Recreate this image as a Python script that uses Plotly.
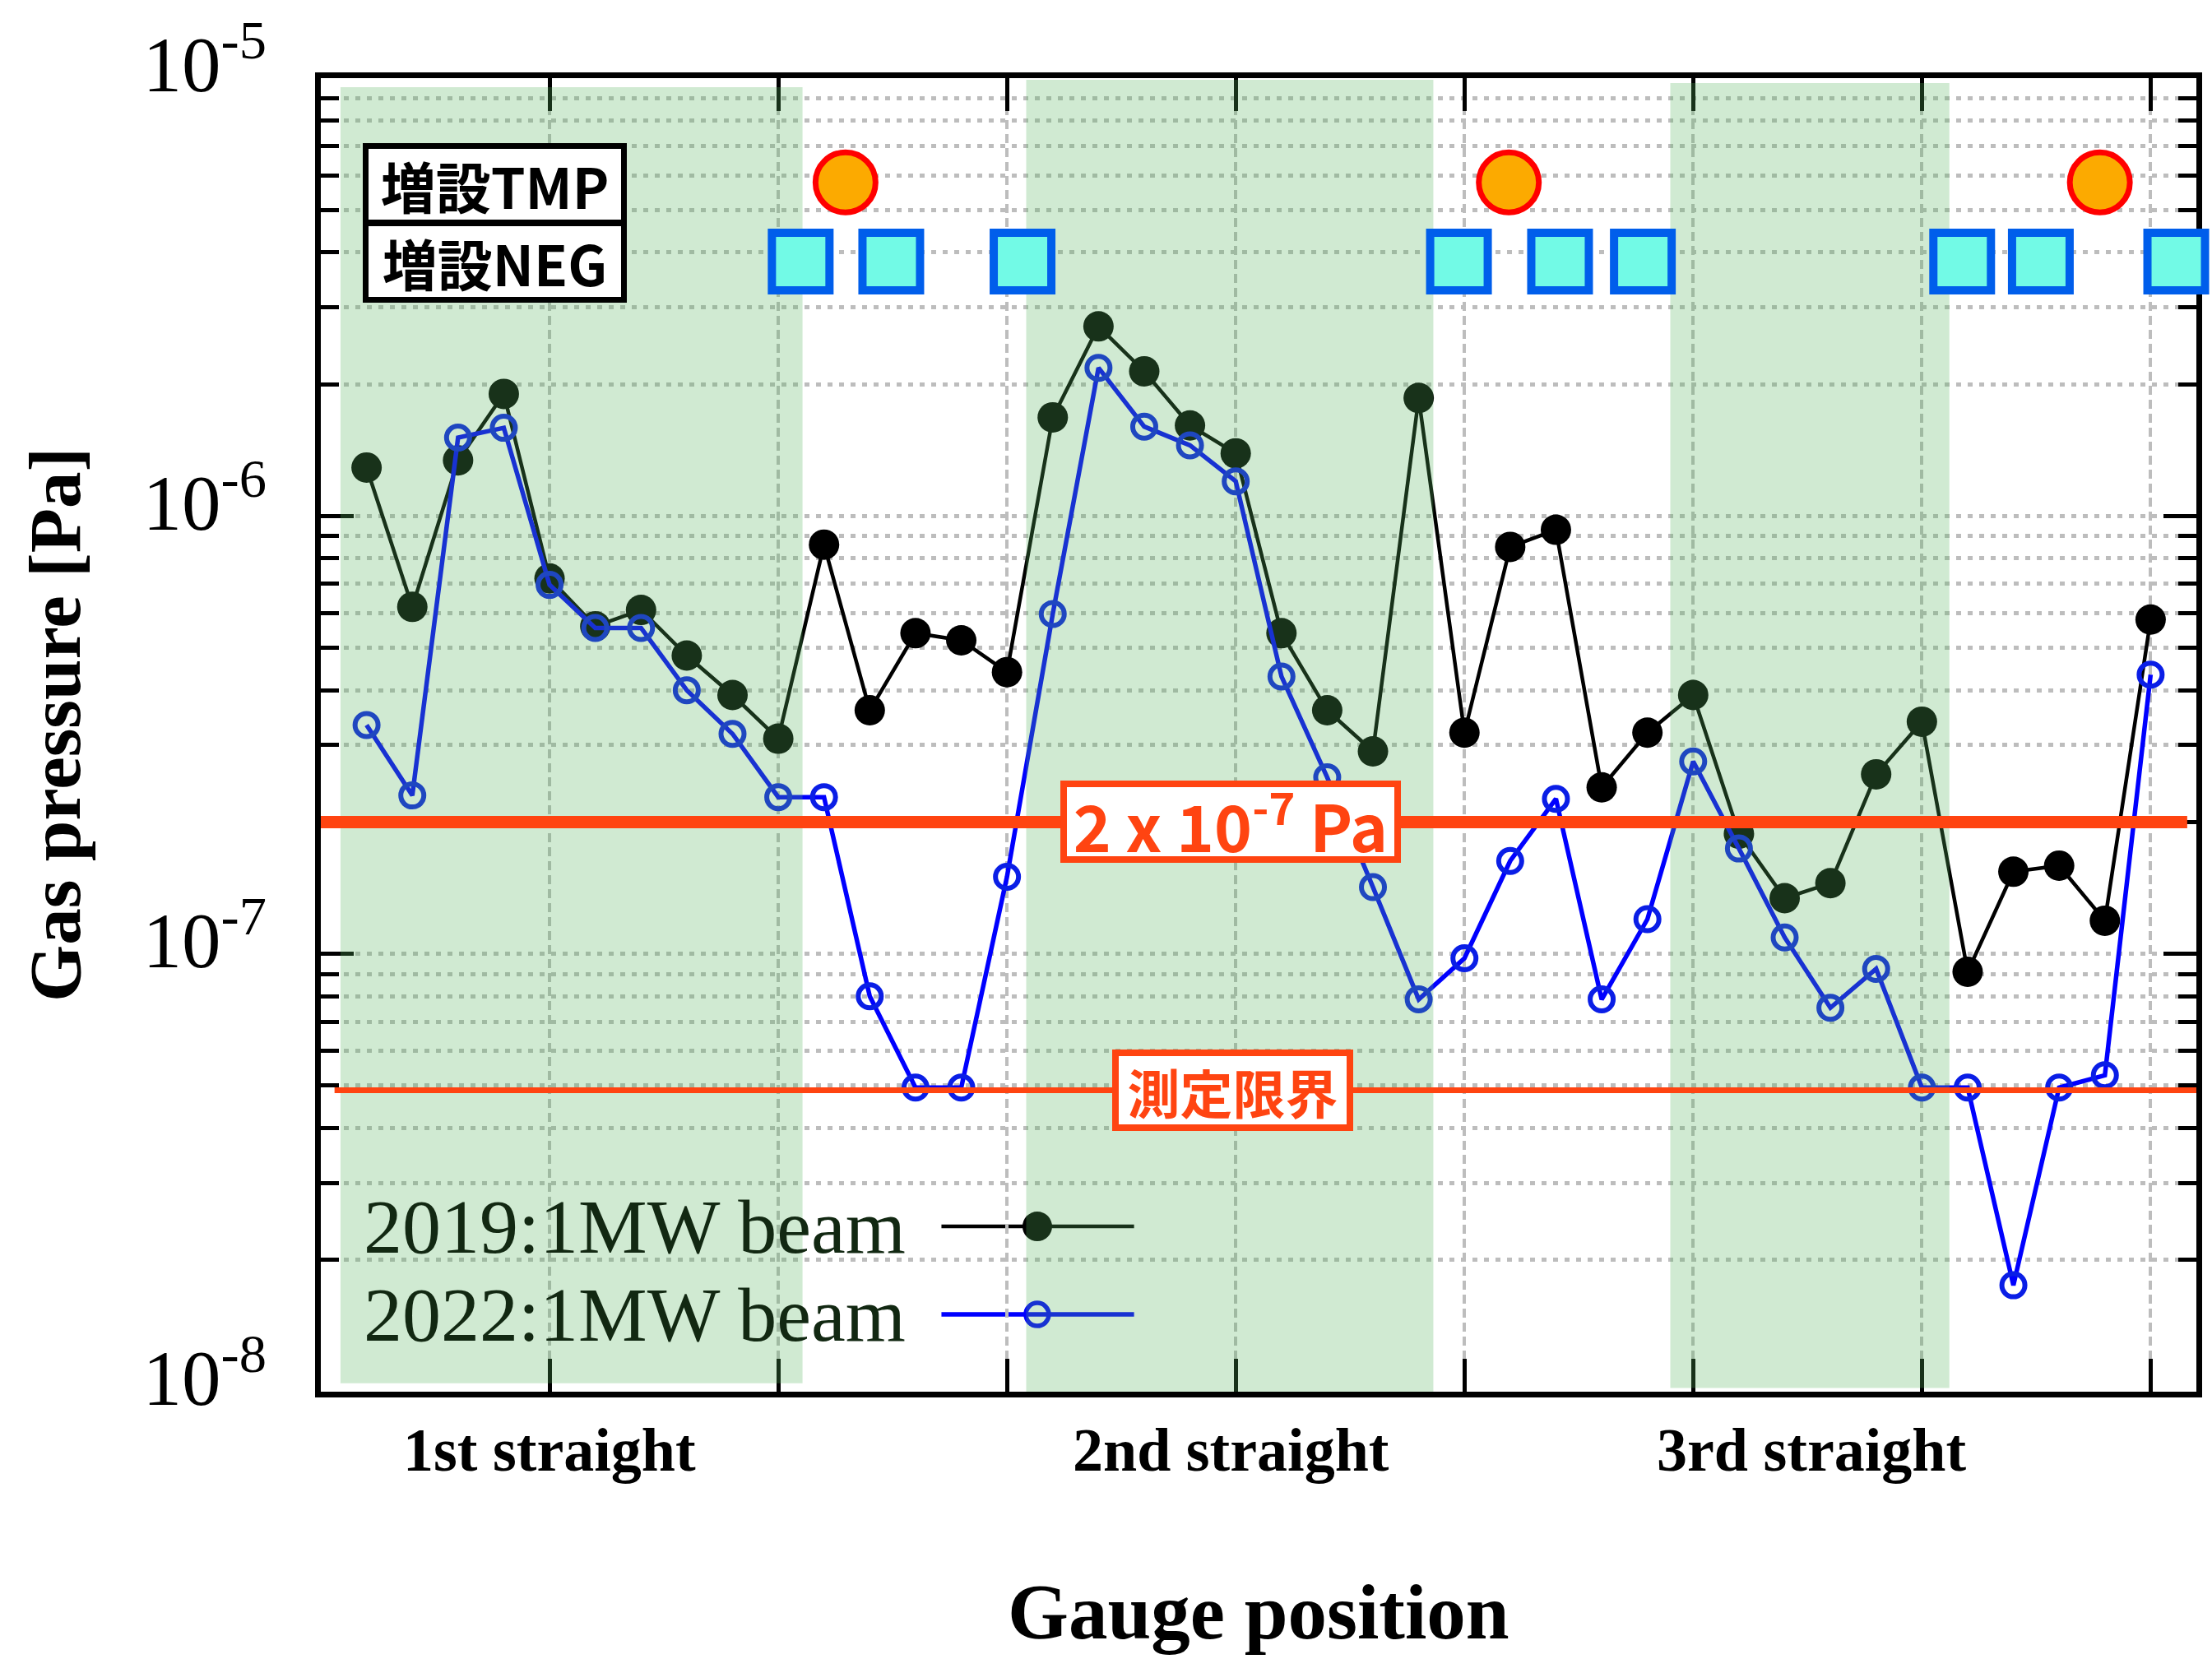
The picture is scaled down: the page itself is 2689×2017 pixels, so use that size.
import numpy as np
import plotly.graph_objects as go

# ---- data -----------------------------------------------------------------
GAUGE_INDEX = list(range(40))

P_2019 = [1.29e-6, 6.2e-7, 1.34e-6, 1.90e-6, 7.2e-7, 5.6e-7, 6.1e-7, 4.8e-7, 3.9e-7, 3.1e-7,
          8.6e-7, 3.6e-7, 5.4e-7, 5.2e-7, 4.4e-7, 1.68e-6, 2.71e-6, 2.14e-6, 1.61e-6, 1.39e-6,
          5.4e-7, 3.6e-7, 2.9e-7, 1.86e-6, 3.2e-7, 8.5e-7, 9.3e-7, 2.4e-7, 3.2e-7, 3.9e-7,
          1.88e-7, 1.34e-7, 1.45e-7, 2.57e-7, 3.39e-7, 9.1e-8, 1.54e-7, 1.59e-7, 1.19e-7, 5.8e-7]

P_2022 = [3.33e-7, 2.30e-7, 1.51e-6, 1.59e-6, 6.96e-7, 5.55e-7, 5.55e-7, 4.0e-7, 3.18e-7, 2.28e-7,
          2.28e-7, 8.0e-8, 4.95e-8, 4.95e-8, 1.50e-7, 5.97e-7, 2.18e-6, 1.60e-6, 1.45e-6, 1.20e-6,
          4.3e-7, 2.53e-7, 1.42e-7, 7.87e-8, 9.77e-8, 1.63e-7, 2.26e-7, 7.87e-8, 1.20e-7, 2.75e-7,
          1.74e-7, 1.09e-7, 7.53e-8, 9.24e-8, 4.95e-8, 4.95e-8, 1.75e-8, 4.95e-8, 5.28e-8, 4.34e-7]

SERIES_NAMES = ["2019:1MW beam", "2022:1MW beam"]

# straight sections (shaded), in gauge-index units
STRAIGHT_X0 = [-0.57, 14.42, 28.5]
STRAIGHT_X1 = [9.53, 23.32, 34.6]
STRAIGHT_TOP = [9.54e-6, 9.91e-6, 9.74e-6]
STRAIGHT_BOTTOM = [1.045e-8, 1.0e-8, 1.02e-8]
SECTION_LABELS = ["1st straight", "2nd straight", "3rd straight"]
SECTION_LABEL_X = [4, 18.9, 31.6]

# added pumps
TMP_X = [10.47, 24.97, 37.89]
TMP_Y = 5.78e-6
NEG_X = [9.49, 11.47, 14.34, 23.88, 26.09, 27.9, 34.88, 36.6, 39.56]
NEG_Y = 3.81e-6

# reference pressures
TARGET_P = 2e-7
LIMIT_P = 4.88e-8

X_TICKS = [4, 9, 14, 19, 24, 29, 34, 39]
Y_TICKS = [1e-8, 1e-7, 1e-6, 1e-5]
Y_TICKTEXT = ["10<sup>-8</sup>", "10<sup>-7</sup>", "10<sup>-6</sup>", "10<sup>-5</sup>"]
Y_MINOR = [m * 10.0 ** e for e in (-8, -7, -6) for m in range(2, 10)]

# ---- styles ---------------------------------------------------------------
SERIF = "Liberation Serif, Times New Roman, serif"
SANS_JP = "Noto Sans CJK JP, Noto Sans, sans-serif"
ORANGE = "#FF4411"
GREEN_FILL = "rgba(87,180,94,0.28)"
LEGEND_TEXT = "rgb(18,40,18)"
GRID = "#BDBDBD"

fig = go.Figure()

fig.add_trace(go.Scatter(
    x=GAUGE_INDEX, y=P_2019, mode="lines+markers", name=SERIES_NAMES[0],
    line=dict(color="black", width=4.5),
    marker=dict(symbol="circle", size=37, color="black", line=dict(width=0)),
))
fig.add_trace(go.Scatter(
    x=GAUGE_INDEX, y=P_2022, mode="lines+markers", name=SERIES_NAMES[1],
    line=dict(color="#0000FF", width=5.5),
    marker=dict(symbol="circle-open", size=28, color="#0A1EE6", line=dict(width=6)),
))

# translucent shading of the straight sections, laid over the data
band_x, band_y = [], []
for x0, x1, yt, yb in zip(STRAIGHT_X0, STRAIGHT_X1, STRAIGHT_TOP, STRAIGHT_BOTTOM):
    band_x += [x0, x1, x1, x0, x0, None]
    band_y += [yb, yb, yt, yt, yb, None]
fig.add_trace(go.Scatter(
    x=band_x, y=band_y, mode="lines", fill="toself", fillcolor=GREEN_FILL,
    line=dict(width=0, color="rgba(0,0,0,0)"), hoverinfo="skip",
))

# reference pressure lines
fig.add_trace(go.Scatter(
    x=[-1, 39.8], y=[TARGET_P, TARGET_P], mode="lines",
    line=dict(color=ORANGE, width=15), hoverinfo="skip",
))
fig.add_trace(go.Scatter(
    x=[-0.7, 40], y=[LIMIT_P, LIMIT_P], mode="lines",
    line=dict(color=ORANGE, width=7), hoverinfo="skip",
))

# added TMP / NEG pump locations
fig.add_trace(go.Scatter(
    x=TMP_X, y=[TMP_Y] * len(TMP_X), mode="markers", cliponaxis=False,
    marker=dict(symbol="circle", size=73, color="#FCAA00", line=dict(color="#FF0000", width=7)),
))
fig.add_trace(go.Scatter(
    x=NEG_X, y=[NEG_Y] * len(NEG_X), mode="markers", cliponaxis=False,
    marker=dict(symbol="square", size=70, color="#72FAE6", line=dict(color="#005EEB", width=10)),
))

# ---- legend (text on the left, sample on the right) ------------------------
LEG_Y = [0.1258, 0.0588]
shapes = [
    dict(type="rect", xref="paper", yref="paper", x0=0.022, x1=0.452, y0=0.0, y1=0.162,
         fillcolor="white", line=dict(width=0), layer="between"),
]
legend_styles = [("black", 4.5, "black", 0, 36), ("#0000FF", 5.5, "rgba(0,0,0,0)", 5.5, 28)]
for ly, (lc, lw, fc, mw, ms) in zip(LEG_Y, legend_styles):
    shapes.append(dict(type="line", xref="paper", yref="paper", x0=0.3309, x1=0.4336,
                       y0=ly, y1=ly, line=dict(color=lc, width=lw), layer="between"))
    shapes.append(dict(type="circle", xref="paper", yref="paper",
                       xsizemode="pixel", ysizemode="pixel", xanchor=0.382, yanchor=ly,
                       x0=-ms / 2, x1=ms / 2, y0=-ms / 2, y1=ms / 2,
                       fillcolor=fc, line=dict(color=lc, width=mw), layer="between"))

annotations = []
for ly, name in zip(LEG_Y, SERIES_NAMES):
    annotations.append(dict(xref="paper", yref="paper", x=0.0219, y=ly, text=name,
                            xanchor="left", yanchor="middle", showarrow=False,
                            font=dict(family=SERIF, size=94, color=LEGEND_TEXT)))

# pump key boxes
for ty, txt in zip([0.9193, 0.8604], ["<b>増設TMP</b>", "<b>増設NEG</b>"]):
    annotations.append(dict(xref="paper", yref="paper", x=0.0927, y=ty, text=txt,
                            showarrow=False, xanchor="center", yanchor="middle",
                            width=307, height=86, borderpad=0, borderwidth=7,
                            bordercolor="black", bgcolor="white",
                            font=dict(family=SANS_JP, size=67, color="black")))

# reference-line labels
annotations.append(dict(xref="x", yref="y", x=18.89, y=np.log10(TARGET_P),
                        text="2 x 10<sup>-7</sup> Pa", showarrow=False,
                        xanchor="center", yanchor="middle", width=398, height=84,
                        borderpad=0, borderwidth=8, bordercolor=ORANGE, bgcolor="white",
                        font=dict(family=SANS_JP, size=78, color=ORANGE, weight=600)))
annotations.append(dict(xref="x", yref="y", x=18.94, y=np.log10(LIMIT_P),
                        text="測定限界", showarrow=False,
                        xanchor="center", yanchor="middle", width=277, height=83,
                        borderpad=0, borderwidth=8, bordercolor=ORANGE, bgcolor="white",
                        font=dict(family=SANS_JP, size=64, color=ORANGE, weight=600)))

# section labels under the axis
for sx, lab in zip(SECTION_LABEL_X, SECTION_LABELS):
    annotations.append(dict(xref="x", yref="paper", x=sx, y=-0.0444, text=f"<b>{lab}</b>",
                            showarrow=False, xanchor="center", yanchor="middle",
                            font=dict(family=SERIF, size=74, color="black")))

# axis titles
annotations.append(dict(xref="paper", yref="paper", x=0.4998, y=-0.1677,
                        text="<b>Gauge position</b>", showarrow=False,
                        xanchor="center", yanchor="middle",
                        font=dict(family=SERIF, size=95, color="black")))
annotations.append(dict(xref="paper", yref="paper", x=-0.1416, y=0.508,
                        text="<b>Gas pressure [Pa]</b>", showarrow=False, textangle=-90,
                        xanchor="center", yanchor="middle",
                        font=dict(family=SERIF, size=89, color="black")))

fig.update_layout(
    width=2689, height=2017,
    margin=dict(l=390, r=13, t=94, b=325),
    paper_bgcolor="white", plot_bgcolor="white",
    showlegend=False,
    shapes=shapes,
    annotations=annotations,
    xaxis=dict(
        range=[-1, 40], tickmode="array", tickvals=X_TICKS, showticklabels=False,
        ticks="inside", ticklen=40, tickwidth=5, tickcolor="black",
        showline=True, linewidth=7, linecolor="black", mirror="ticks",
        showgrid=True, gridcolor=GRID, gridwidth=3.5, griddash="11px,6px",
        zeroline=False, layer="below traces",
    ),
    yaxis=dict(
        type="log", range=[-8, -5], tickmode="array", tickvals=Y_TICKS, ticktext=Y_TICKTEXT,
        ticks="inside", ticklen=40, tickwidth=5, tickcolor="black",
        showline=True, linewidth=7, linecolor="black", mirror="ticks",
        showgrid=True, gridcolor=GRID, gridwidth=4.5, griddash="6px,8px",
        minor=dict(tickmode="array", tickvals=Y_MINOR, ticks="inside", ticklen=22,
                   tickwidth=5, tickcolor="black", showgrid=True, gridcolor=GRID,
                   gridwidth=4.5, griddash="6px,8px"),
        tickfont=dict(family=SERIF, size=95, color="black"),
        ticklabelstandoff=40, ticklabelshift=-17,
        zeroline=False, layer="below traces",
    ),
)

fig.write_html("out.html")
